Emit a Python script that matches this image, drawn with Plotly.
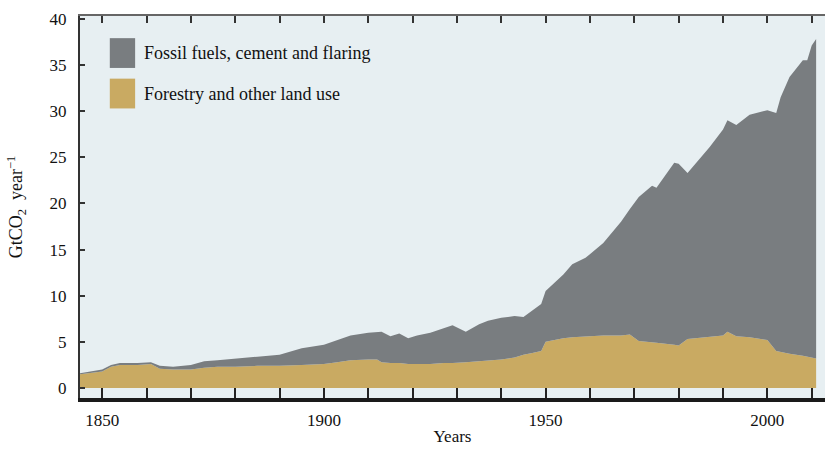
import plotly.graph_objects as go

# Global CO2 emissions by source, GtCO2 per year
years = [1845, 1848, 1850, 1852, 1854, 1858, 1861, 1863, 1866, 1870, 1873, 1876,
         1880, 1885, 1890, 1895, 1900, 1903, 1906, 1910, 1912, 1913, 1915, 1917,
         1919, 1921, 1924, 1927, 1929, 1932, 1935, 1937, 1940, 1943, 1945, 1947,
         1949, 1950, 1952, 1954, 1956, 1959, 1963, 1967, 1969, 1971, 1974, 1975,
         1979, 1980, 1982, 1987, 1990, 1991, 1993, 1996, 2000, 2002, 2003, 2005,
         2008, 2009, 2010, 2011]

land_use = [1.5, 1.7, 1.8, 2.3, 2.5, 2.5, 2.6, 2.1, 2.0, 2.0, 2.2, 2.3,
            2.3, 2.4, 2.4, 2.5, 2.6, 2.8, 3.0, 3.1, 3.1, 2.8, 2.7, 2.7,
            2.6, 2.6, 2.6, 2.7, 2.7, 2.8, 2.9, 3.0, 3.1, 3.3, 3.6, 3.8,
            4.0, 5.0, 5.2, 5.4, 5.5, 5.6, 5.7, 5.7, 5.8, 5.1, 5.0, 4.9,
            4.7, 4.6, 5.3, 5.6, 5.7, 6.1, 5.6, 5.5, 5.2, 4.0, 3.9, 3.7,
            3.5, 3.4, 3.3, 3.2]

fossil = [0.1, 0.1, 0.2, 0.2, 0.2, 0.2, 0.2, 0.3, 0.3, 0.5, 0.7, 0.7,
          0.9, 1.0, 1.2, 1.8, 2.1, 2.4, 2.7, 2.9, 3.0, 3.3, 2.9, 3.2,
          2.8, 3.1, 3.4, 3.8, 4.1, 3.3, 4.0, 4.3, 4.5, 4.5, 4.1, 4.6,
          5.1, 5.5, 6.2, 6.9, 7.9, 8.5, 10.0, 12.3, 13.6, 15.6, 16.9, 16.8,
          19.7, 19.7, 18.0, 20.5, 22.3, 22.9, 22.9, 24.1, 24.9, 25.8, 27.6, 30.0,
          32.0, 32.1, 33.8, 34.6]

series_names = ["Fossil fuels, cement and flaring", "Forestry and other land use"]
y_ticks = [0, 5, 10, 15, 20, 25, 30, 35, 40]

GRAY = "#797d80"
TAN = "#c9aa62"
BG = "#e7eff2"
FONT = "Liberation Serif"
TXT = "#111"

fig = go.Figure()
fig.add_trace(go.Scatter(x=years, y=land_use, name=series_names[1], stackgroup="one",
                         mode="lines", line=dict(width=0, color=TAN), fillcolor=TAN,
                         showlegend=False))
fig.add_trace(go.Scatter(x=years, y=fossil, name=series_names[0], stackgroup="one",
                         mode="lines", line=dict(width=0, color=GRAY), fillcolor=GRAY,
                         showlegend=False))

# Legend drawn as swatches with text labels
swatches = [(GRAY, series_names[0], 0.903), (TAN, series_names[1], 0.797)]
for color, label, yc in swatches:
    fig.add_shape(type="rect", xref="paper", yref="paper",
                  x0=0.040, x1=0.074, y0=yc - 0.039, y1=yc + 0.039,
                  fillcolor=color, line=dict(width=0), layer="above")
    fig.add_annotation(xref="paper", yref="paper", x=0.083, y=yc, text=label,
                       showarrow=False, xanchor="left", yanchor="middle",
                       font=dict(family=FONT, size=18, color=TXT))

fig.update_layout(
    width=825, height=449,
    margin=dict(l=80, r=0, t=16, b=51),
    paper_bgcolor="white", plot_bgcolor=BG,
    font=dict(family=FONT, size=17, color=TXT),
    xaxis=dict(range=[1845, 2013], tick0=1850, dtick=50, ticks="inside",
               ticklen=10, tickwidth=2, tickcolor="#222", ticklabelstandoff=4,
               tickfont=dict(family=FONT, size=17, color=TXT),
               minor=dict(dtick=10, tick0=1850, ticks="inside", ticklen=10,
                          tickwidth=2, tickcolor="#222"),
               showline=True, linecolor="#1a1a1a", linewidth=4,
               showgrid=False, zeroline=False,
               title=dict(text="Years", standoff=2, font=dict(family=FONT, size=17))),
    xaxis2=dict(range=[1845, 2013], overlaying="x", side="top", tick0=1850,
                dtick=10, ticks="inside", ticklen=7, tickwidth=2, tickcolor="#333",
                showticklabels=False, showline=True, linecolor="#666", linewidth=2,
                showgrid=False, zeroline=False),
    yaxis=dict(range=[-1.08, 40.3], tickvals=y_ticks, ticks="inside", ticklen=5,
               tickwidth=2, tickcolor="#333", showline=True, linecolor="#333",
               linewidth=2, showgrid=False, zeroline=False, ticklabelstandoff=8,
               tickfont=dict(family=FONT, size=17, color=TXT),
               title=dict(text="GtCO<sub>2</sub>  year<sup>\u22121</sup>", standoff=22,
                          font=dict(family=FONT, size=18))),
)
# Invisible point so the top axis is rendered
fig.add_trace(go.Scatter(x=[1845], y=[0], xaxis="x2", mode="markers",
                         marker=dict(opacity=0), showlegend=False, hoverinfo="skip"))

fig.write_html("out.html")
